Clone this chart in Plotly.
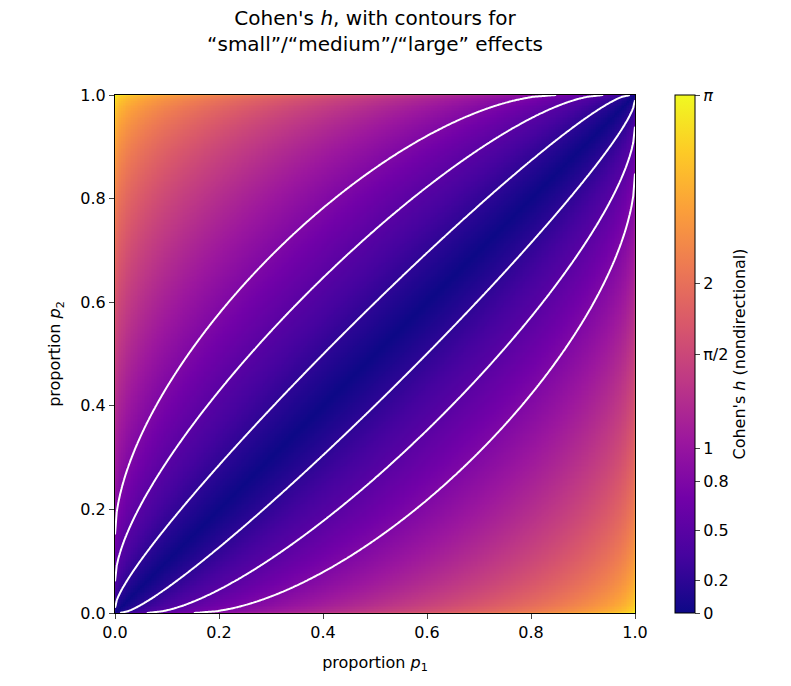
import numpy as np
import plotly.graph_objects as go

p1 = np.linspace(0, 1, 301)
p2 = np.linspace(0, 1, 301)
contour_levels = [0.2, 0.5, 0.8]
cb_tickvals = [0, 0.2, 0.5, 0.8, 1, np.pi/2, 2, np.pi]
cb_ticktext = ["0", "0.2", "0.5", "0.8", "1", "π/2", "2", "<i>π</i>"]
axis_ticks = [0, 0.2, 0.4, 0.6, 0.8, 1.0]

P1, P2 = np.meshgrid(p1, p2)
H = np.abs(2*np.arcsin(np.sqrt(P1)) - 2*np.arcsin(np.sqrt(P2)))

fig = go.Figure()
fig.add_trace(go.Heatmap(x=p1, y=p2, z=H, colorscale="Plasma", zmin=0, zmax=np.pi,
    colorbar=dict(x=1.077, xanchor="left", xpad=0, ypad=0, thickness=20, len=1, lenmode="fraction",
                  y=0, yanchor="bottom", tickvals=cb_tickvals, ticktext=cb_ticktext,
                  ticks="outside", ticklen=5, outlinecolor="black", outlinewidth=1,
                  tickfont=dict(size=16),
                  title=dict(text="Cohen's <i>h</i> (nondirectional)", side="right", font=dict(size=16)))))
for lv in contour_levels:
    fig.add_trace(go.Contour(x=p1, y=p2, z=H, showscale=False, showlegend=False,
                             contours=dict(coloring="none", start=lv, end=lv, size=1),
                             line=dict(color="white", width=2), hoverinfo="skip"))
    fig.add_shape(type="line", xref="paper", yref="paper", x0=1.077, x1=1.077+20/520,
                  y0=lv/np.pi, y1=lv/np.pi, line=dict(color="white", width=2))

ax = dict(range=[0, 1], tickvals=axis_ticks, tickformat=".1f", ticks="outside", ticklen=5,
          showline=True, linecolor="black", mirror=True, showgrid=False, zeroline=False,
          tickfont=dict(size=16))
fig.update_layout(width=791, height=686, showlegend=False,
    margin=dict(l=107, r=164, t=87, b=81, autoexpand=False),
    font=dict(family="DejaVu Sans", color="black"), plot_bgcolor="white", paper_bgcolor="white",
    title=dict(text="Cohen's <i>h</i>, with contours for<br>“small”/“medium”/“large” effects",
               x=(107+627)/2/791, xref="container", xanchor="center", y=0.975, yref="container",
               yanchor="top", font=dict(size=20)),
    xaxis=dict(ax, title=dict(text="proportion <i>p</i><sub>1</sub>", font=dict(size=16))),
    yaxis=dict(ax, title=dict(text="proportion <i>p</i><sub>2</sub>", font=dict(size=16))))
fig.write_html("out.html")
